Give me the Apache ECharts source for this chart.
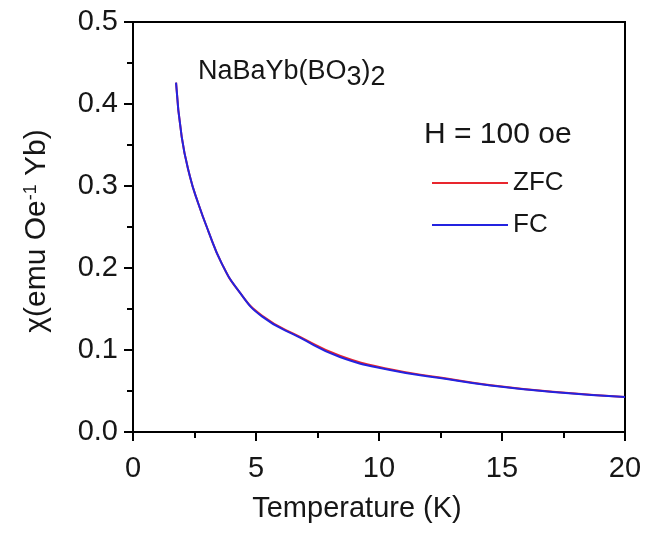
<!DOCTYPE html>
<html>
<head>
<meta charset="utf-8">
<script src="https://cdn.jsdelivr.net/npm/echarts@6/dist/echarts.min.js"></script>
<style>html,body{margin:0;padding:0;background:#fff}#c{width:645px;height:535px}</style>
</head>
<body>
<div id="c"></div>
<script>
var temps = [1.75, 1.98, 2.32, 2.65, 3.05, 3.60, 4.27, 5.24, 6.79, 8.41, 10.45, 12.48, 14.39, 17.07, 20.0];
var zfc   = [0.426, 0.360, 0.311, 0.279, 0.246, 0.206, 0.173, 0.142, 0.116, 0.093, 0.0765, 0.0665, 0.0577, 0.0490, 0.0428];
var fc    = [0.426, 0.360, 0.311, 0.279, 0.246, 0.206, 0.173, 0.141, 0.115, 0.0915, 0.0756, 0.0659, 0.0573, 0.0488, 0.0427];
var xTicks = [0, 5, 10, 15, 20];
var yTicks = [0.0, 0.1, 0.2, 0.3, 0.4, 0.5];

var font = 'Liberation Sans, Arial, sans-serif';
var txt = '#161616';
var chart = echarts.init(document.getElementById('c'));
function pairs(xs, ys){ return xs.map(function(x,i){return [x, ys[i]];}); }
chart.setOption({
  animation: false,
  grid: {left: 133, right: 20, top: 22, bottom: 103, show: true, borderColor: '#000', borderWidth: 2, backgroundColor: 'transparent'},
  xAxis: {
    type: 'value', min: xTicks[0], max: xTicks[xTicks.length-1], interval: 5,
    name: 'Temperature (K)', nameLocation: 'middle', nameGap: 62,
    nameTextStyle: {fontFamily: font, fontSize: 29, color: txt, padding: [0, 44, 0, 0]},
    axisLine: {show: true, lineStyle: {color: '#000', width: 2}},
    axisTick: {show: true, inside: false, length: 9, lineStyle: {color: '#000', width: 2}},
    minorTick: {show: true, splitNumber: 2, length: 6, lineStyle: {color: '#000', width: 2}},
    axisLabel: {fontFamily: font, fontSize: 29, color: txt, margin: 22},
    splitLine: {show: false}
  },
  yAxis: {
    type: 'value', min: yTicks[0], max: yTicks[yTicks.length-1], interval: 0.1,
    name: '{a|χ(emu Oe}{s|-1}{a| Yb)}', nameLocation: 'middle', nameGap: 81, nameRotate: 90,
    nameTextStyle: {fontFamily: font, fontSize: 30, color: txt, padding: [0, 8, 0, 0],
      rich: {a: {fontFamily: font, fontSize: 30, color: txt}, s: {fontFamily: font, fontSize: 18, color: txt, verticalAlign: 'top', padding: [0,0,11,0]}}},
    axisLine: {show: true, lineStyle: {color: '#000', width: 2}},
    axisTick: {show: true, inside: false, length: 9, lineStyle: {color: '#000', width: 2}},
    minorTick: {show: true, splitNumber: 2, length: 6, lineStyle: {color: '#000', width: 2}},
    axisLabel: {fontFamily: font, fontSize: 29, color: txt, margin: 15, formatter: function(v){return v.toFixed(1);}},
    splitLine: {show: false}
  },
  legend: {
    orient: 'vertical', left: 427, top: 165, itemWidth: 76, itemHeight: 2, itemGap: 16,
    icon: 'rect',
    textStyle: {fontFamily: font, fontSize: 26, color: txt, padding: [0,0,0,0]},
    data: ['ZFC', 'FC']
  },
  graphic: [
    {type: 'text', left: 198, top: 58, style: {
      text: '{a|NaBaYb(BO}{s|3}{a|)}{s|2}',
      rich: {a: {fontFamily: font, fontSize: 27, fill: txt}, s: {fontFamily: font, fontSize: 27, fill: txt, verticalAlign: 'bottom', padding: [12,0,0,0]}}
    }},
    {type: 'text', left: 424, top: 120, style: {text: 'H = 100 oe', fontFamily: font, fontSize: 30, fill: txt}}
  ],
  series: [
    {name: 'ZFC', type: 'line', data: pairs(temps, zfc), smooth: true, showSymbol: false, symbol: 'none',
     lineStyle: {color: '#e8262e', width: 2}, itemStyle: {color: '#e8262e'}},
    {name: 'FC', type: 'line', data: pairs(temps, fc), smooth: true, showSymbol: false, symbol: 'none',
     lineStyle: {color: '#2323e0', width: 2}, itemStyle: {color: '#2323e0'}}
  ]
});
</script>
</body>
</html>
